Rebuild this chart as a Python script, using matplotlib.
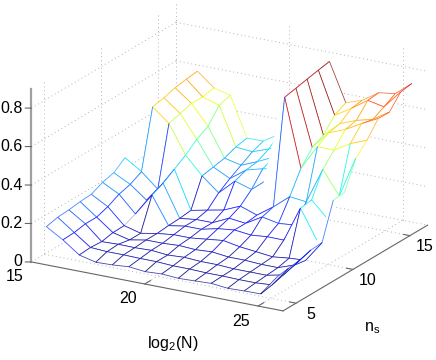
import numpy as np
import matplotlib
matplotlib.use('Agg')
import matplotlib.pyplot as plt
from mpl_toolkits.mplot3d import proj3d
from mpl_toolkits.mplot3d.art3d import Poly3DCollection, Line3DCollection

plt.rcParams['font.family'] = ['Liberation Sans', 'DejaVu Sans']
plt.rcParams['mathtext.fontset'] = 'custom'
plt.rcParams['mathtext.rm'] = 'Liberation Sans'

# dados
log2N = [15.0, 15.73, 16.45, 17.18, 17.91, 18.64, 19.36, 20.09, 20.82, 21.55, 22.27, 23.0, 23.73, 24.45, 25.18]
ns = [5.18, 6.17, 7.15, 8.14, 9.12, 10.11, 11.09, 12.08, 13.06, 14.05, 15.03, 16.02, 17.0]
n = np.nan
Z = np.array([
    [.137, .085, .023, .002, .005, .012, .003, .008, .002, .005, .009, .000, .003, .004, .110],
    [.151, .088, .027, .022, .022, .020, .020, .015, .015, .012, .012, .010, .010, .016, .119],
    [.155, .099, .023, .026, .025, .028, .020, .025, .020, .020, .015, .015, .015, .033, .127],
    [.163, .099, .035, .014, .030, .030, .035, .030, .035, .025, .025, .020, .020, .050, .145],
    [.167, .119, .037, .014, .030, .040, .040, .050, .060, .044, .035, .025, .035, .040, .149],
    [.194, .149, .063, .178, .036, .050, .050, .070, .080, .070, .078, .077, .260, .110, .336],
    [.210, .166, .100, .205, .039, .050, .050, .090, .080, .130, .113, .121, .268, .184, .341],
    [.253, .197, .122, .243, .046, .064, .081, .118, .088, .148, .217, .207, .392, .270, .484],
    [n, .500, .430, .282, .191, .119, .197, .170, .240, .683, .330, .460, .458, .509, .543],
    [n, .512, .447, .329, .202, .159, .220, .243, .263, .695, .404, .497, .531, .578, .621],
    [n, .530, .465, .363, .214, .194, .229, .270, .300, .708, .433, .510, .544, .565, .620],
    [n, .540, .464, .437, .237, .229, .260, .300, .330, .720, .502, .554, .613, .596, .690],
    [n, .547, .477, .455, .249, .251, .304, .330, .360, .731, .533, .563, .619, .630, .700],
])
# coluna 8 atrás da parede: faces brancas sobem sem linha desenhada
col8_face = [.33, .54, .55, .56, .57]

xticks = [15, 20, 25]
yticks = [5, 10, 15]
zticks = [0, 0.2, 0.4, 0.6, 0.8]
zlabels = ['0', '0.2', '0.4', '0.6', '0.8']
xlim = (15, 26.1)
ylim = (3.86, 16.56)
zlim = (0, 0.9)

W, H = 436, 360
S = 437
fig = plt.figure(figsize=(W / 100, H / 100), dpi=100)
ax = fig.add_axes([5.1 / W, -21.4 / H, S / W, S / H], projection='3d')
ax.set_proj_type('ortho')
ax.view_init(elev=19.85, azim=-60.2)
ax.set_box_aspect((290, 291, 184))
ax.set_xlim(*xlim)
ax.set_ylim(*ylim)
ax.set_zlim(*zlim)
ax.set_axis_off()
ax.computed_zorder = False
ax.patch.set_alpha(0)

Zf = Z.copy()
Zf[8:, 8] = col8_face


def line(xs, ys, zs, **kw):
    ax.plot(xs, ys, zs, **kw)


def edge_alpha(a0, b0, a1, b1):
    # arestas que quase somem na figura original
    if a0 == a1 == 2 and 4 <= b0 < 7:
        return 0.2
    if a0 == a1 == 8 and b0 >= 7:
        return 0.0
    if b0 == b1 >= 8 and a0 == 8:
        return 0.0
    if a0 == a1 == 13 and 4 <= b0 < 7:
        return 0.0
    if b0 == b1 and b0 in (5, 6) and a0 == 13:
        return 0.0
    return 0.72


# ---- grade pontilhada (chão e paredes)
grid = dict(color='#b4b4b4', lw=0.7, ls=(0, (1, 3)), zorder=1)
for xt in xticks[1:]:
    line([xt, xt], [ylim[0], ylim[1]], [0, 0], **grid)
    line([xt, xt], [ylim[1], ylim[1]], zlim, **grid)
for yt in yticks:
    line(xlim, [yt, yt], [0, 0], **grid)
    line([xlim[0], xlim[0]], [yt, yt], zlim, **grid)
for zt in zticks:
    line([xlim[0], xlim[0]], ylim, [zt, zt], **grid)
    line(xlim, [ylim[1], ylim[1]], [zt, zt], **grid)
line([xlim[0], xlim[0]], [ylim[1], ylim[1]], zlim, **grid)

# ---- eixos
axc = dict(color='#666666', lw=0.8, zorder=2)
line(xlim, [ylim[0], ylim[0]], [0, 0], **axc)
line([xlim[1], xlim[1]], ylim, [0, 0], **axc)
line([xlim[0], xlim[0]], [ylim[0], ylim[0]], zlim, color='#a0a0a0', lw=1.6, zorder=2)
for xt in xticks[1:]:
    line([xt, xt], [ylim[0], ylim[0] + 0.5], [0, 0], **axc)
for yt in yticks:
    line([xlim[1] - 0.28, xlim[1]], [yt, yt], [0, 0], **axc)
for zt in zticks:
    line([xlim[0] - 0.2, xlim[0]], [ylim[0] - 0.13, ylim[0]], [zt, zt], **axc)

# ---- malha: pintor de trás para frente, com cor do vértice de menor índice
cmap = matplotlib.colormaps['jet']
norm = plt.Normalize(0, np.nanmax(Z))
order = 1000
for j in range(len(ns) - 2, -1, -1):
    for i in range(len(log2N) - 1):
        quad = [(i, j), (i + 1, j), (i + 1, j + 1), (i, j + 1)]
        Zq = Zf if i == 8 else Z
        if not np.isnan([Zq[b, a] for a, b in quad]).any():
            verts = [[(log2N[a], ns[b], Zq[b, a]) for a, b in quad]]
            ax.add_collection3d(Poly3DCollection(verts, facecolors='white', edgecolors='none', zorder=order), autolim=False)
            order += 1
        segs = []
        cols = []
        for (a0, b0), (a1, b1) in [(quad[3], quad[2]), (quad[1], quad[2]), (quad[0], quad[3]), (quad[0], quad[1])]:
            if np.isnan(Z[b0, a0]) or np.isnan(Z[b1, a1]):
                continue
            al = edge_alpha(a0, b0, a1, b1)
            if al == 0:
                continue
            segs.append([(log2N[a0], ns[b0], Z[b0, a0]), (log2N[a1], ns[b1], Z[b1, a1])])
            cols.append(cmap(norm(Z[b0, a0]), alpha=al))
        ax.add_collection3d(Line3DCollection(segs, colors=cols, linewidths=0.6, zorder=order), autolim=False)
        order += 1


# ---- textos (posição projetada para 2D)
def label(x, y, z, s, **kw):
    px, py, _ = proj3d.proj_transform(x, y, z, ax.get_proj())
    ax.text2D(px, py, s, transform=ax.transData, fontsize=11.5, zorder=9000, **kw)


for xt in xticks:
    label(xt + 0.29, ylim[0] - 2.03, 0, str(xt), ha='center', va='center')
for yt in yticks:
    label(xlim[1] + 1.11, yt - 0.9, 0, str(yt), ha='center', va='center')
for zt, lab in zip(zticks, zlabels):
    label(xlim[0] - 0.30, ylim[0] - 0.195, zt, lab, ha='right', va='center')
label(sum(xlim) / 2 + 3.75, ylim[0] - 6.07, 0, r'log$_2$(N)', ha='center', va='center')
label(xlim[1] + 3.91, sum(ylim) / 2 - 6.34, 0, r'n$_{\mathrm{s}}$', ha='center', va='center')

fig.savefig('out.png', dpi=100)
